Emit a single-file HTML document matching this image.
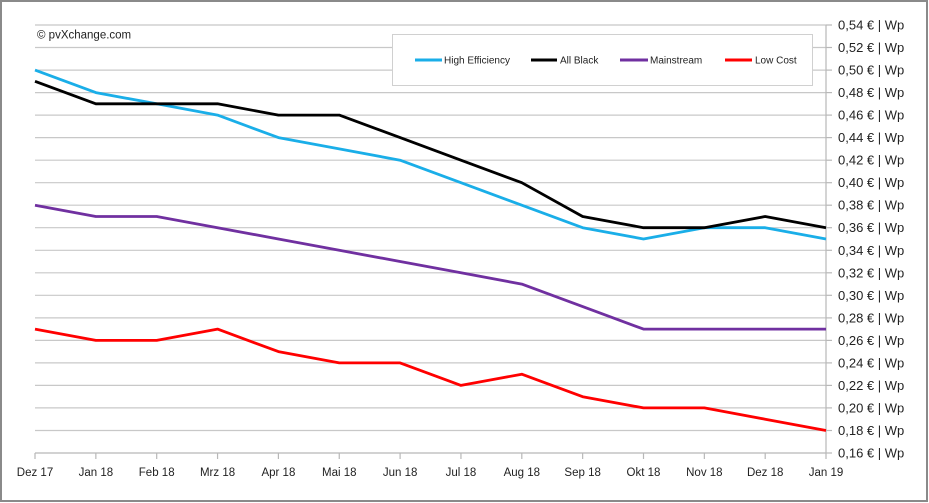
<!DOCTYPE html>
<html><head><meta charset="utf-8"><style>
html,body{margin:0;padding:0;background:#fff;}
svg{display:block;font-family:"Liberation Sans",sans-serif;}
</style></head><body>
<svg width="929" height="503" viewBox="0 0 929 503" xmlns="http://www.w3.org/2000/svg">
<rect x="0" y="0" width="929" height="503" fill="#fff"/>
<rect x="1" y="1" width="926" height="500" fill="none" stroke="#8a8a8a" stroke-width="2"/>
<g stroke="#c8c8c8" stroke-width="1.2">
<line x1="35" x2="826" y1="25" y2="25"/>
<line x1="35" x2="826" y1="47.5" y2="47.5"/>
<line x1="35" x2="826" y1="70.1" y2="70.1"/>
<line x1="35" x2="826" y1="92.6" y2="92.6"/>
<line x1="35" x2="826" y1="115.1" y2="115.1"/>
<line x1="35" x2="826" y1="137.6" y2="137.6"/>
<line x1="35" x2="826" y1="160.2" y2="160.2"/>
<line x1="35" x2="826" y1="182.7" y2="182.7"/>
<line x1="35" x2="826" y1="205.2" y2="205.2"/>
<line x1="35" x2="826" y1="227.7" y2="227.7"/>
<line x1="35" x2="826" y1="250.3" y2="250.3"/>
<line x1="35" x2="826" y1="272.8" y2="272.8"/>
<line x1="35" x2="826" y1="295.3" y2="295.3"/>
<line x1="35" x2="826" y1="317.9" y2="317.9"/>
<line x1="35" x2="826" y1="340.4" y2="340.4"/>
<line x1="35" x2="826" y1="362.9" y2="362.9"/>
<line x1="35" x2="826" y1="385.4" y2="385.4"/>
<line x1="35" x2="826" y1="407.9" y2="407.9"/>
<line x1="35" x2="826" y1="430.5" y2="430.5"/>
</g>
<g stroke="#b8b8b8" stroke-width="1.2">
<line x1="35" x2="826" y1="453" y2="453"/>
<line x1="826" x2="826" y1="25" y2="453"/>
<line x1="35" x2="35" y1="453" y2="459"/>
<line x1="95.85" x2="95.85" y1="453" y2="459"/>
<line x1="156.7" x2="156.7" y1="453" y2="459"/>
<line x1="217.55" x2="217.55" y1="453" y2="459"/>
<line x1="278.4" x2="278.4" y1="453" y2="459"/>
<line x1="339.25" x2="339.25" y1="453" y2="459"/>
<line x1="400.1" x2="400.1" y1="453" y2="459"/>
<line x1="460.95" x2="460.95" y1="453" y2="459"/>
<line x1="521.8" x2="521.8" y1="453" y2="459"/>
<line x1="582.65" x2="582.65" y1="453" y2="459"/>
<line x1="643.5" x2="643.5" y1="453" y2="459"/>
<line x1="704.35" x2="704.35" y1="453" y2="459"/>
<line x1="765.2" x2="765.2" y1="453" y2="459"/>
<line x1="826" x2="826" y1="453" y2="459"/>
<line x1="826" x2="832" y1="25" y2="25"/>
<line x1="826" x2="832" y1="47.5" y2="47.5"/>
<line x1="826" x2="832" y1="70.1" y2="70.1"/>
<line x1="826" x2="832" y1="92.6" y2="92.6"/>
<line x1="826" x2="832" y1="115.1" y2="115.1"/>
<line x1="826" x2="832" y1="137.6" y2="137.6"/>
<line x1="826" x2="832" y1="160.2" y2="160.2"/>
<line x1="826" x2="832" y1="182.7" y2="182.7"/>
<line x1="826" x2="832" y1="205.2" y2="205.2"/>
<line x1="826" x2="832" y1="227.7" y2="227.7"/>
<line x1="826" x2="832" y1="250.3" y2="250.3"/>
<line x1="826" x2="832" y1="272.8" y2="272.8"/>
<line x1="826" x2="832" y1="295.3" y2="295.3"/>
<line x1="826" x2="832" y1="317.9" y2="317.9"/>
<line x1="826" x2="832" y1="340.4" y2="340.4"/>
<line x1="826" x2="832" y1="362.9" y2="362.9"/>
<line x1="826" x2="832" y1="385.4" y2="385.4"/>
<line x1="826" x2="832" y1="407.9" y2="407.9"/>
<line x1="826" x2="832" y1="430.5" y2="430.5"/>
<line x1="826" x2="832" y1="453" y2="453"/>
</g>
<g font-size="13" fill="#222">
<text x="838" y="29.5">0,54 € | Wp</text>
<text x="838" y="52">0,52 € | Wp</text>
<text x="838" y="74.6">0,50 € | Wp</text>
<text x="838" y="97.1">0,48 € | Wp</text>
<text x="838" y="119.6">0,46 € | Wp</text>
<text x="838" y="142.1">0,44 € | Wp</text>
<text x="838" y="164.7">0,42 € | Wp</text>
<text x="838" y="187.2">0,40 € | Wp</text>
<text x="838" y="209.7">0,38 € | Wp</text>
<text x="838" y="232.2">0,36 € | Wp</text>
<text x="838" y="254.8">0,34 € | Wp</text>
<text x="838" y="277.3">0,32 € | Wp</text>
<text x="838" y="299.8">0,30 € | Wp</text>
<text x="838" y="322.4">0,28 € | Wp</text>
<text x="838" y="344.9">0,26 € | Wp</text>
<text x="838" y="367.4">0,24 € | Wp</text>
<text x="838" y="389.9">0,22 € | Wp</text>
<text x="838" y="412.4">0,20 € | Wp</text>
<text x="838" y="435">0,18 € | Wp</text>
<text x="838" y="457.5">0,16 € | Wp</text>
</g>
<g font-size="11.5" fill="#222" text-anchor="middle">
<text x="35" y="476">Dez 17</text>
<text x="95.85" y="476">Jan 18</text>
<text x="156.7" y="476">Feb 18</text>
<text x="217.55" y="476">Mrz 18</text>
<text x="278.4" y="476">Apr 18</text>
<text x="339.25" y="476">Mai 18</text>
<text x="400.1" y="476">Jun 18</text>
<text x="460.95" y="476">Jul 18</text>
<text x="521.8" y="476">Aug 18</text>
<text x="582.65" y="476">Sep 18</text>
<text x="643.5" y="476">Okt 18</text>
<text x="704.35" y="476">Nov 18</text>
<text x="765.2" y="476">Dez 18</text>
<text x="826" y="476">Jan 19</text>
</g>
<text x="37" y="38.5" font-size="11.5" fill="#222">© pvXchange.com</text>
<rect x="392.5" y="34.5" width="420" height="51" fill="#fff" stroke="#d0d0d0" stroke-width="1"/>
<g stroke-width="3">
<line x1="415" x2="442" y1="60" y2="60" stroke="#1aaee8"/>
<line x1="531" x2="557" y1="60" y2="60" stroke="#000"/>
<line x1="620" x2="648" y1="60" y2="60" stroke="#7030a0"/>
<line x1="725" x2="752" y1="60" y2="60" stroke="#ff0000"/>
</g>
<g font-size="10" fill="#222">
<text x="444" y="63.5">High Efficiency</text>
<text x="560" y="63.5">All Black</text>
<text x="650" y="63.5">Mainstream</text>
<text x="755" y="63.5">Low Cost</text>
</g>
<g fill="none" stroke-width="2.8" stroke-linejoin="round">
<polyline stroke="#1aaee8" points="35,70.1 95.85,92.6 156.7,103.8 217.55,115.1 278.4,137.6 339.25,148.9 400.1,160.2 460.95,182.7 521.8,205.2 582.65,227.7 643.5,239 704.35,227.7 765.2,227.7 826,239"/>
<polyline stroke="#000" points="35,81.3 95.85,103.8 156.7,103.8 217.55,103.8 278.4,115.1 339.25,115.1 400.1,137.6 460.95,160.2 521.8,182.7 582.65,216.5 643.5,227.7 704.35,227.7 765.2,216.5 826,227.7"/>
<polyline stroke="#7030a0" points="35,205.2 95.85,216.5 156.7,216.5 217.55,227.7 278.4,239 339.25,250.3 400.1,261.5 460.95,272.8 521.8,284.1 582.65,306.6 643.5,329.1 704.35,329.1 765.2,329.1 826,329.1"/>
<polyline stroke="#ff0000" points="35,329.1 95.85,340.4 156.7,340.4 217.55,329.1 278.4,351.6 339.25,362.9 400.1,362.9 460.95,385.4 521.8,374.2 582.65,396.7 643.5,407.9 704.35,407.9 765.2,419.2 826,430.5"/>
</g>
</svg>
</body></html>
